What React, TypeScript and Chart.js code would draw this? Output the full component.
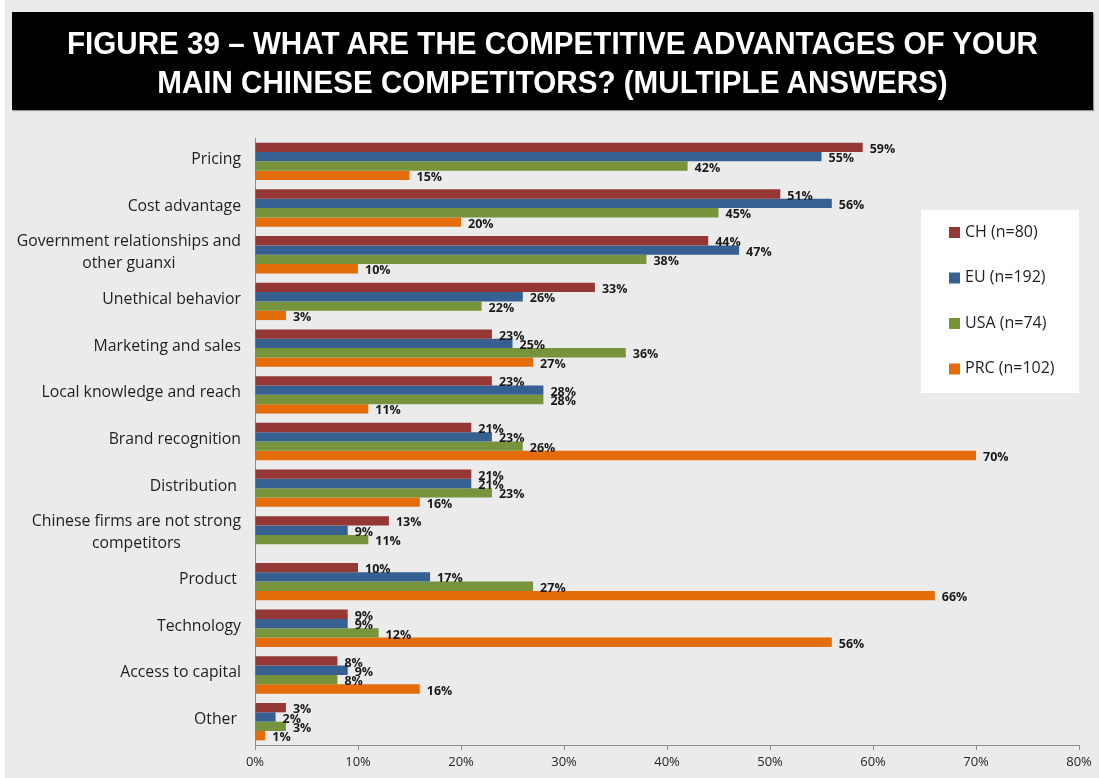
import React, { useEffect, useRef } from 'react';
import { Chart, registerables } from 'chart.js';

Chart.register(...registerables);

const categories: string[][] = [
  ['Pricing'],
  ['Cost advantage'],
  ['Government relationships and', 'other guanxi'],
  ['Unethical behavior'],
  ['Marketing and sales'],
  ['Local knowledge and reach'],
  ['Brand recognition'],
  ['Distribution '],
  ['Chinese firms are not strong', 'competitors'],
  ['Product '],
  ['Technology'],
  ['Access to capital'],
  ['Other '],
];

const seriesNames = ['CH (n=80)', 'EU (n=192)', 'USA (n=74)', 'PRC (n=102)'];
const seriesColors = ['#953735', '#376092', '#77933C', '#E46C0A'];

const chValues = [59, 51, 44, 33, 23, 23, 21, 21, 13, 10, 9, 8, 3];
const euValues = [55, 56, 47, 26, 25, 28, 23, 21, 9, 17, 9, 9, 2];
const usaValues = [42, 45, 38, 22, 36, 28, 26, 23, 11, 27, 12, 8, 3];
const prcValues: (number | null)[] = [15, 20, 10, 3, 27, 11, 70, 16, null, 66, 56, 16, 1];

const xMin = 0;
const xMax = 80;
const xStep = 10;

const titleLines = [
  'FIGURE 39 \u2013 WHAT ARE THE COMPETITIVE ADVANTAGES OF YOUR',
  'MAIN CHINESE COMPETITORS? (MULTIPLE ANSWERS)',
];

const LABEL_FONT = '15.8px "Open Sans", "Liberation Sans", sans-serif';
const VALUE_FONT = 'bold 12.5px "Open Sans", "Liberation Sans", sans-serif';

const categoryLabelPlugin = {
  id: 'categoryLabels',
  afterDraw(chart: any) {
    const ctx = chart.ctx;
    const yScale = chart.scales.y;
    const rightEdge = chart.chartArea.left - 14;
    ctx.save();
    ctx.font = LABEL_FONT;
    ctx.fillStyle = '#1f1f1f';
    ctx.textBaseline = 'middle';
    const lineH = 22;
    categories.forEach((lines, i) => {
      const cy = yScale.getPixelForValue(i) - 2;
      const widths = lines.map((l) => ctx.measureText(l).width);
      const blockW = Math.max(...widths);
      const centerX = rightEdge - blockW / 2;
      const startY = cy - ((lines.length - 1) * lineH) / 2;
      lines.forEach((l, k) => {
        ctx.textAlign = 'center';
        ctx.fillText(l, centerX, startY + k * lineH);
      });
    });
    ctx.restore();
  },
};

const valueLabelPlugin = {
  id: 'valueLabels',
  afterDatasetsDraw(chart: any) {
    const ctx = chart.ctx;
    ctx.save();
    ctx.font = VALUE_FONT;
    ctx.fillStyle = '#1a1a1a';
    ctx.textAlign = 'left';
    ctx.textBaseline = 'middle';
    chart.data.datasets.forEach((ds: any, di: number) => {
      const meta = chart.getDatasetMeta(di);
      meta.data.forEach((el: any, i: number) => {
        const v = ds.data[i];
        if (v === null || v === undefined) return;
        ctx.fillText(v + '%', el.x + 7, el.y + 2);
      });
    });
    ctx.restore();
  },
};

const legendBoxPlugin = {
  id: 'legendBox',
  afterDraw(chart: any) {
    const ctx = chart.ctx;
    const boxX = 921;
    const boxY = 210;
    const boxW = 158;
    const boxH = 183;
    ctx.save();
    ctx.fillStyle = '#ffffff';
    ctx.fillRect(boxX, boxY, boxW, boxH);
    ctx.font = '16px "Open Sans", "Liberation Sans", sans-serif';
    ctx.textAlign = 'left';
    ctx.textBaseline = 'middle';
    seriesNames.forEach((name, i) => {
      const cy = boxY + 22 + i * 45.5;
      ctx.fillStyle = seriesColors[i];
      ctx.fillRect(boxX + 28, cy - 5, 11, 11);
      ctx.fillStyle = '#1f1f1f';
      ctx.fillText(name, boxX + 44, cy);
    });
    ctx.restore();
  },
};

function BarChart() {
  const canvasRef = useRef<HTMLCanvasElement | null>(null);

  useEffect(() => {
    if (!canvasRef.current) return;
    const seriesValues = [chValues, euValues, usaValues, prcValues];
    const chart = new Chart(canvasRef.current, {
      type: 'bar',
      data: {
        labels: categories,
        datasets: seriesNames.map((name, i) => ({
          label: name,
          data: seriesValues[i] as any,
          backgroundColor: seriesColors[i],
          borderWidth: 0,
          categoryPercentage: 0.8,
          barPercentage: 1.0,
        })),
      },
      options: {
        indexAxis: 'y',
        animation: false,
        responsive: false,
        maintainAspectRatio: false,
        layout: { padding: { top: 138, right: 20, left: 0, bottom: 0 } },
        plugins: {
          legend: { display: false },
          tooltip: { enabled: false },
          title: { display: false },
        },
        scales: {
          x: {
            type: 'linear',
            min: xMin,
            max: xMax,
            afterFit: (scale: any) => {
              scale.height = 33;
            },
            ticks: {
              stepSize: xStep,
              callback: (v: any) => v + '%',
              font: { family: '"Open Sans", "Liberation Sans", sans-serif', size: 13 },
              color: '#262626',
              padding: 4,
            },
            grid: {
              display: true,
              drawOnChartArea: false,
              drawTicks: true,
              tickLength: 5,
              color: '#8c8c8c',
            },
            border: { display: true, color: '#8c8c8c', width: 1 },
          },
          y: {
            type: 'category',
            afterFit: (scale: any) => {
              scale.width = 255;
            },
            ticks: { display: false },
            grid: { display: false },
            border: { display: true, color: '#8c8c8c', width: 1 },
          },
        },
      } as any,
      plugins: [valueLabelPlugin, categoryLabelPlugin, legendBoxPlugin],
    });
    return () => chart.destroy();
  }, []);

  return (
    <canvas
      ref={canvasRef}
      width={1099}
      height={778}
      style={{ position: 'absolute', left: 0, top: 0, width: 1099, height: 778 }}
    />
  );
}

export default function App() {
  return (
    <div
      style={{
        position: 'absolute',
        left: 0,
        top: 0,
        width: 1099,
        height: 778,
        background: '#ebebeb',
        overflow: 'hidden',
      }}
    >
      <div style={{ position: 'absolute', left: 0, top: 0, width: 5, height: 778, background: '#ffffff' }} />
      <BarChart />
      <div
        style={{
          position: 'absolute',
          left: 12,
          top: 12,
          width: 1081,
          height: 98,
          background: '#000000',
          boxShadow: '1px 1px 1px #9a9a9a',
          color: '#ffffff',
          fontFamily: '"Liberation Sans", Arial, sans-serif',
          fontWeight: 'bold',
          fontSize: 32,
          textAlign: 'center',
          zIndex: 2,
        }}
      >
        {titleLines.map((t, i) => (
          <div
            key={i}
            style={{
              position: 'absolute',
              left: 0,
              width: 1081,
              top: 13 + i * 39,
              lineHeight: '37px',
              whiteSpace: 'nowrap',
              transform: 'scaleX(0.925)',
              transformOrigin: '540px 50%',
            }}
          >
            {t}
          </div>
        ))}
      </div>
    </div>
  );
}
